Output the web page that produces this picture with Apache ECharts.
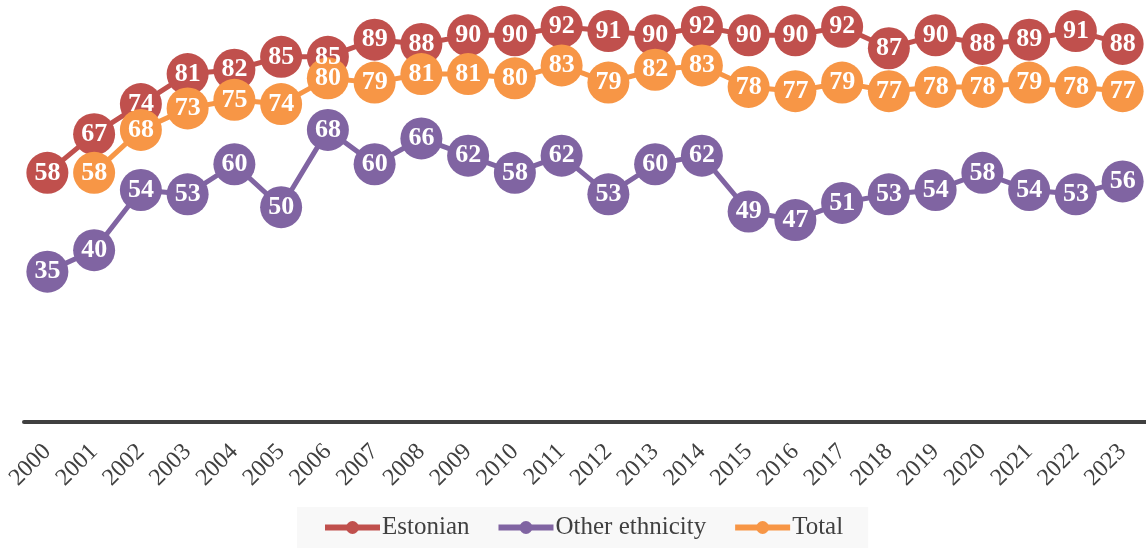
<!DOCTYPE html>
<html>
<head>
<meta charset="utf-8">
<script src="https://cdn.jsdelivr.net/npm/echarts@6/dist/echarts.min.js"></script>
<style>
  html, body { margin: 0; padding: 0; background: #fff; }
  #main { width: 1146px; height: 548px; }
</style>
</head>
<body>
<div id="main"></div>
<script>
  var years = ['2000','2001','2002','2003','2004','2005','2006','2007','2008','2009','2010','2011',
               '2012','2013','2014','2015','2016','2017','2018','2019','2020','2021','2022','2023'];
  var estonian = [58, 67, 74, 81, 82, 85, 85, 89, 88, 90, 90, 92, 91, 90, 92, 90, 90, 92, 87, 90, 88, 89, 91, 88];
  var other = [35, 40, 54, 53, 60, 50, 68, 60, 66, 62, 58, 62, 53, 60, 62, 49, 47, 51, 53, 54, 58, 54, 53, 56];
  var total = ['-', 58, 68, 73, 75, 74, 80, 79, 81, 81, 80, 83, 79, 82, 83, 78, 77, 79, 77, 78, 78, 79, 78, 77];

  var font = 'Liberation Serif';

  function makeSeries(name, data, color) {
    return {
      name: name,
      type: 'line',
      data: data,
      symbol: 'circle',
      symbolSize: 42,
      lineStyle: { width: 5, color: color },
      itemStyle: { color: color },
      label: {
        show: true,
        position: 'inside',
        color: '#fff',
        fontFamily: font,
        fontWeight: 'bold',
        fontSize: 26
      },
      emphasis: { disabled: true }
    };
  }

  var myChart = echarts.init(document.getElementById('main'));
  var option = {
    animation: false,
    grid: { left: 24, right: 0, top: 1, bottom: 126 },
    legend: {
      bottom: 0,
      left: 297,
      backgroundColor: '#f8f8f8',
      padding: [8, 25, 8, 25],
      itemGap: 26,
      itemWidth: 55,
      itemHeight: 16,
      lineStyle: { width: 6 },
      textStyle: { fontFamily: font, fontSize: 25, color: '#404040', padding: [0, 0, 0, -3] },
      data: ['Estonian', 'Other ethnicity', 'Total']
    },
    xAxis: {
      type: 'category',
      data: years,
      boundaryGap: true,
      axisLine: { lineStyle: { color: '#404040', width: 4 } },
      axisTick: { show: false },
      axisLabel: {
        rotate: 45,
        margin: 26,
        interval: 0,
        fontFamily: font,
        fontSize: 24,
        color: '#404040'
      }
    },
    yAxis: {
      type: 'value',
      min: 0,
      max: 98,
      show: false
    },
    series: [
      makeSeries('Estonian', estonian, '#C0504D'),
      makeSeries('Other ethnicity', other, '#8064A2'),
      makeSeries('Total', total, '#F79646')
    ]
  };
  myChart.setOption(option);
</script>
</body>
</html>
